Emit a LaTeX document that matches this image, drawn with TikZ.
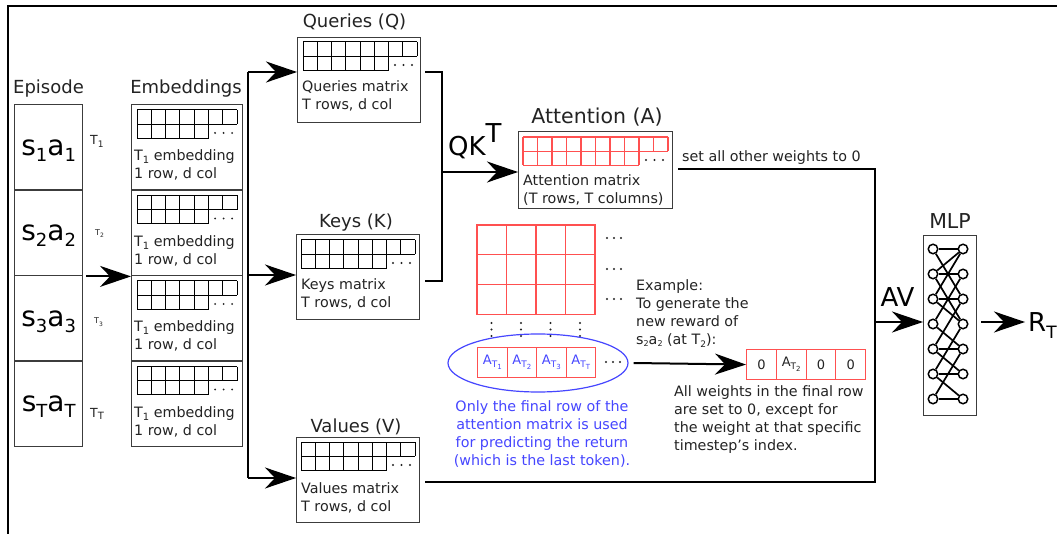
\documentclass[tikz,border=0pt]{standalone}
\usepackage{fontspec}
\setmainfont{DejaVu Sans}
\usetikzlibrary{arrows.meta,shapes.geometric,calc}
\definecolor{redc}{RGB}{255,80,80}
\definecolor{bluec}{RGB}{70,70,255}
\definecolor{boxc}{RGB}{60,60,60}
\definecolor{txt}{RGB}{35,35,35}
% size, drop, text
\newcommand{\sbx}[3]{\raisebox{-#2pt}{\fontsize{#1}{#1}\selectfont #3}}
% x, y, ntop, nbot, cell width, style
\newcommand{\mygrid}[6]{%
  \foreach \i in {0,...,#3} \draw[#6] ({#1+\i*#5},{#2}) -- ({#1+\i*#5},{#2+14.2});
  \foreach \i in {0,...,#4} \draw[#6] ({#1+\i*#5},{#2+14.2}) -- ({#1+\i*#5},{#2+28.4});
  \draw[#6] ({#1},{#2}) -- ({#1+#3*#5},{#2});
  \draw[#6] ({#1},{#2+14.2}) -- ({#1+#3*#5},{#2+14.2});
  \draw[#6] ({#1},{#2+28.4}) -- ({#1+#4*#5},{#2+28.4});
  \foreach \d in {-22,-13.5,-5} \fill[txt] ({#1+#3*#5+\d},{#2+23}) circle (1.1);
}
\newcommand{\hdots}[2]{\foreach \d in {0,7,14} \fill[txt] ({#1+\d},{#2}) circle (1.1);}
\newcommand{\ATs}[1]{A\sbx{9}{3}{T\sbx{7}{2}{#1}}}
\tikzset{
  box/.style={draw=boxc, line width=1.4, inner sep=0, anchor=north west},
  conn/.style={line width=2, draw=black},
  arr/.style={conn, -{Stealth[length=31pt,width=21pt,inset=10pt]}},
  small/.style={font=\fontsize{14.3}{18}\selectfont, text=txt, inner sep=0},
  ttl/.style={font=\fontsize{18}{20}\selectfont, text=txt, inner sep=0, anchor=base},
  big/.style={font=\fontsize{26}{28}\selectfont, text=black, inner sep=0},
  episo/.style={font=\fontsize{28}{30}\selectfont, text=black, inner sep=0},
  gl/.style={line width=1, draw=black},
  rgl/.style={line width=1.1, draw=redc},
  neuron/.style={circle, draw=black, line width=1.5, fill=white, minimum size=9.5, inner sep=0},
  tlab/.style={text=txt, inner sep=0, anchor=base west},
}
\begin{document}
\begin{tikzpicture}[x=1pt,y=-1pt]
\useasboundingbox (0,0) rectangle (1057,534);
\fill[white] (0,0) rectangle (1057,534);
% frame
\draw[line width=2] (8,534) -- (8,6) -- (1057,6);

% ---------- Episode ----------
\node[ttl] (eptitle) at (48.5,94) {Episode};
\node[box, minimum width=68, minimum height=85.5] (ep1) at (14,104) {};
\node[box, minimum width=68, minimum height=85.5] (ep2) at (14,189.5) {};
\node[box, minimum width=68, minimum height=85.5] (ep3) at (14,275) {};
\node[box, minimum width=68, minimum height=85.5] (ep4) at (14,360.5) {};
\node[episo] (sa1) at ([yshift=-3]ep1.center) {s\sbx{18}{6}{1}a\sbx{18}{6}{1}};
\node[episo] (sa2) at ([yshift=-3]ep2.center) {s\sbx{18}{6}{2}a\sbx{18}{6}{2}};
\node[episo] (sa3) at ([yshift=-3]ep3.center) {s\sbx{18}{6}{3}a\sbx{18}{6}{3}};
\node[episo] (sa4) at ([yshift=-3]ep4.center) {s\sbx{18}{6}{T}a\sbx{18}{6}{T}};
\node[tlab, font=\fontsize{12.5}{14}\selectfont] (t1) at (90,145) {T\sbx{9}{3}{1}};
\node[tlab, font=\fontsize{8}{9}\selectfont] (t2) at (95,236) {T\sbx{6}{2}{2}};
\node[tlab, font=\fontsize{8}{9}\selectfont] (t3) at (94,324) {T\sbx{6}{2}{3}};
\node[tlab, font=\fontsize{12.5}{14}\selectfont] (t4) at (90,417) {T\sbx{10}{2}{T}};

% ---------- Embeddings ----------
\node[ttl] (embtitle) at (186,94) {Embeddings};
\foreach \k in {1,2,3,4} {
  \node[box, minimum width=111, minimum height=85.5] (emb\k) at (131,{104+85.5*(\k-1)}) {};
  \mygrid{137}{110+85.5*(\k-1)}{7}{5}{14.3}{gl}
  \node[small, anchor=base west] (embt\k) at (134,{161+85.5*(\k-1)}) {T\sbx{10}{3}{1} embedding};
  \node[small, anchor=base west] (embr\k) at (134,{179+85.5*(\k-1)}) {1 row, d col};
}
\draw[arr] ([xshift=3]ep2.south east) -- (emb2.south west);

% ---------- Q, K, V ----------
\node[ttl] (qtitle) at (354.5,28) {Queries (Q)};
\node[box, minimum width=123, minimum height=85] (q) at (297,37) {};
\mygrid{303}{42}{8}{6}{14.25}{gl}
\node[small, anchor=base west] (qt1) at (302,92) {Queries matrix};
\node[small, anchor=base west] (qt2) at (302,110) {T rows, d col};

\node[ttl] (ktitle) at (356,228) {Keys (K)};
\node[box, minimum width=123, minimum height=85] (k) at (296,234) {};
\mygrid{301}{240}{8}{6}{14.25}{gl}
\node[small, anchor=base west] (kt1) at (301,290) {Keys matrix};
\node[small, anchor=base west] (kt2) at (301,308) {T rows, d col};

\node[ttl] (vtitle) at (356,432) {Values (V)};
\node[box, minimum width=123, minimum height=85] (v) at (296,437) {};
\mygrid{301}{442}{8}{6}{14.25}{gl}
\node[small, anchor=base west] (vt1) at (301,493) {Values matrix};
\node[small, anchor=base west] (vt2) at (301,511) {T rows, d col};

% bus from embeddings
\coordinate (qin) at ([yshift=-35]q.north west);
\coordinate (kin) at ([yshift=-41]k.north west);
\coordinate (vin) at ([yshift=-41]v.north west);
\coordinate (bus) at ([xshift=5]emb1.east);
\draw[conn] (bus |- qin) -- (bus |- vin);
\draw[arr] (bus |- qin) -- (qin);
\draw[arr] (bus |- kin) -- (kin);
\draw[arr] (bus |- vin) -- (vin);

% ---------- Attention ----------
\node[ttl, font=\fontsize{20.5}{22}\selectfont] (atitle) at (597,124) {Attention (A)};
\node[box, minimum width=154, minimum height=77] (a) at (518,131) {};
\mygrid{523}{137}{10}{8}{14.5}{rgl}
\node[small, anchor=base west] (at1) at (523,186) {Attention matrix};
\node[small, anchor=base west] (at2) at (523,204) {(T rows, T columns)};

\coordinate (qo) at ([xshift=4,yshift=-35]q.north east);
\coordinate (ko) at ([xshift=5,yshift=-47]k.north east);
\coordinate (ain) at ([yshift=-41]a.north west);
\coordinate (jq) at (442,0);
\draw[conn] (qo) -| (jq |- ko) -- (ko);
\draw[arr] (jq |- ain) -- (ain);
\node[big, anchor=base west] (qk) at (448,156) {QK\raisebox{13pt}{T}};

% ---------- attention detail ----------
\foreach \c in {0,1,2,3} \foreach \r in {0,1,2}
  \draw[rgl] ({477+29.5*\c},{225+29.7*\r}) rectangle ++(29.5,29.7);
\hdots{607}{238} \hdots{607}{269} \hdots{607}{299}
\foreach \c in {0,1,2,3} \foreach \dy in {0,6.5,13}
  \fill[txt] ({491.5+29.5*\c},{323+\dy}) circle (1.1);
\node[draw=bluec, line width=1.2, ellipse, minimum width=180, minimum height=58, inner sep=0] (ell) at (538,363) {};
\foreach \c/\t in {0/1,1/2,2/3,3/T} {
  \node[draw=redc, line width=1.1, minimum width=29.5, minimum height=29.5, inner sep=0,
        anchor=north west, text=bluec, font=\fontsize{13}{13}\selectfont] (fr\c) at ({477+29.5*\c},347) {\ATs{\t}};
}
\hdots{606}{362}
\node[small, text=bluec, align=center, anchor=north] (note) at (542,400)
  {Only the final row of the\\attention matrix is used\\for predicting the return\\(which is the last token).};

% example
\node[small, align=left, anchor=north west] (exa) at (636,279)
  {Example:\\To generate the\\new reward of\\s\sbx{8}{2}{2}a\sbx{8}{2}{2} (at T\sbx{9}{3}{2}):};
\foreach \c/\t in {0/0,1/{\ATs{2}},2/0,3/0} {
  \node[draw=redc, line width=1.1, minimum width=29.75, minimum height=30, inner sep=0,
        anchor=north west, text=txt, font=\fontsize{13}{13}\selectfont] (ex\c) at ({746+29.75*\c},349) {\t};
}
\draw[arr] ([xshift=5]ell.east) -- (ex0.west);
\node[small, align=left, anchor=north west] (allw) at (674,385)
  {All weights in the final row\\are set to 0, except for\\the weight at that specific\\timestep's index.};

% ---------- to MLP ----------
\coordinate (ao) at ([xshift=5,yshift=-38]a.north east);
\coordinate (vo) at ([xshift=5,yshift=-45]v.north east);
\coordinate (jav) at (875,322);
\node[small, anchor=base west] (sw) at (682,162) {set all other weights to 0};
\draw[conn] (ao) -| (jav);
\draw[conn] (vo) -| (jav);
\node[big, anchor=base] (av) at (897.5,307) {AV};

\node[ttl, font=\fontsize{20.5}{22}\selectfont] (mlptitle) at (950,229) {MLP};
\node[box, minimum width=53, minimum height=180] (mlp) at (923,235) {};
\foreach \i in {1,...,7} {
  \node[neuron] (ml\i) at (933,{249+25*(\i-1)}) {};
  \node[neuron] (mr\i) at (963,{249+25*(\i-1)}) {};
}
\foreach \l/\r in {1/1,1/3,2/1,2/2,3/1,2/4,3/3,3/4,4/2,4/5,5/3,5/5,5/6,6/4,6/6,6/7,7/5,7/7}
  \draw[line width=1.7] (ml\l) -- (mr\r);
\draw[arr] (jav) -- (mlp.west |- jav);

\node[big, anchor=base west] (rt) at (1028,332) {R\sbx{17}{6}{T}};
\draw[arr] ([xshift=4]mlp.east |- jav) -- ([xshift=-3]rt.west |- jav);
\end{tikzpicture}
\end{document}
